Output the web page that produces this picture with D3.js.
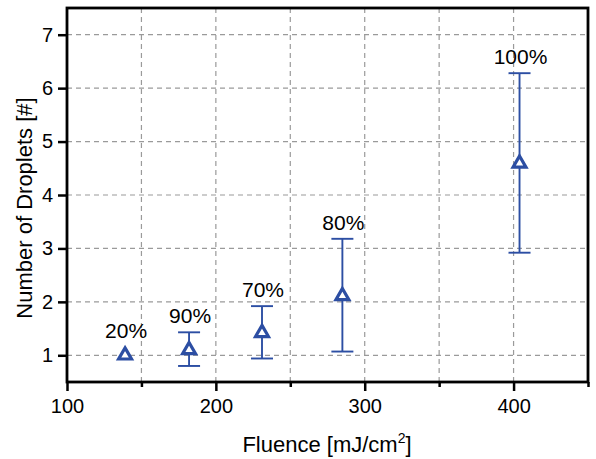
<!DOCTYPE html>
<html>
<head>
<meta charset="utf-8">
<script src="https://cdn.jsdelivr.net/npm/d3@7"></script>
<style>
  body { margin: 0; background: #fff; }
  text { font-family: "Liberation Sans", Arial, sans-serif; fill: #000; }
</style>
</head>
<body>
<script>
// fluence values, mean droplet count, error bar ends, labels
var fluence = [139, 182, 231, 285, 404];
var droplets = [1.0, 1.10, 1.42, 2.11, 4.59];
var errLow = [1.0, 0.80, 0.94, 1.07, 2.92];
var errHigh = [1.0, 1.43, 1.92, 3.18, 6.28];
var labels = ["20%", "90%", "70%", "80%", "100%"];
var xTicks = [100, 200, 300, 400];
var xMinor = [150, 250, 350, 450];
var yTicks = [1, 2, 3, 4, 5, 6, 7];

var width = 596, height = 459;
var margin = {top: 8, right: 8, bottom: 77, left: 67};
var blue = "#2c4ea3";

var data = fluence.map((f, i) => ({
    x: f, y: droplets[i], lo: errLow[i], hi: errHigh[i], label: labels[i]
}));

var svg = d3.select("body")
            .append("svg")
            .attr("width", width)
            .attr("height", height);

var x = d3.scaleLinear()
          .domain([100, 450])
          .range([margin.left, width - margin.right]);
var y = d3.scaleLinear()
          .domain([0.5, 7.5])
          .range([height - margin.bottom, margin.top]);

// grid
var grid = svg.append("g")
              .attr("stroke", "#9a9a9a")
              .attr("stroke-width", 1.2)
              .attr("stroke-dasharray", "5,4");
grid.selectAll("line.v")
    .data(xTicks.concat(xMinor).filter(d => d > 100 && d < 450))
    .enter().append("line")
    .attr("class", "v")
    .attr("x1", d => x(d)).attr("x2", d => x(d))
    .attr("y1", y(7.5)).attr("y2", y(0.5));
grid.selectAll("line.h")
    .data(yTicks)
    .enter().append("line")
    .attr("class", "h")
    .attr("x1", x(100)).attr("x2", x(450))
    .attr("y1", d => y(d)).attr("y2", d => y(d));

// axes
var xAxis = d3.axisBottom(x).tickValues(xTicks).tickSize(9).tickPadding(8);
var xMinorAxis = d3.axisBottom(x).tickValues(xMinor).tickSize(5).tickFormat("");
var yAxis = d3.axisLeft(y).tickValues(yTicks).tickFormat(d3.format("d"))
              .tickSize(9).tickPadding(5);

var gx = svg.append("g")
    .attr("transform", `translate(0,${y(0.5)})`)
    .call(xAxis);
svg.append("g")
    .attr("transform", `translate(0,${y(0.5)})`)
    .call(xMinorAxis)
    .call(g => g.select(".domain").remove())
    .selectAll("line").attr("stroke-width", 2.5);
var gy = svg.append("g")
    .attr("transform", `translate(${x(100)},0)`)
    .call(yAxis);

[gx, gy].forEach(g => {
    g.select(".domain").remove();
    g.selectAll(".tick line").attr("stroke", "#000").attr("stroke-width", 2.5);
    g.selectAll(".tick text")
        .style("font-family", "'Liberation Sans', Arial, sans-serif")
        .style("font-size", "20px")
        .attr("fill", "#000");
});

// frame
svg.append("rect")
    .attr("x", x(100)).attr("y", y(7.5))
    .attr("width", x(450) - x(100))
    .attr("height", y(0.5) - y(7.5))
    .attr("fill", "none")
    .attr("stroke", "#000")
    .attr("stroke-width", 2.8);

// error bars
var err = svg.append("g")
             .attr("stroke", blue)
             .attr("stroke-width", 1.9);
var withErr = data.filter(d => d.hi > d.lo);
err.selectAll("line.stem")
   .data(withErr)
   .enter().append("line")
   .attr("x1", d => x(d.x)).attr("x2", d => x(d.x))
   .attr("y1", d => y(d.lo)).attr("y2", d => y(d.hi));
err.selectAll("line.capHi")
   .data(withErr)
   .enter().append("line")
   .attr("x1", d => x(d.x) - 11).attr("x2", d => x(d.x) + 11)
   .attr("y1", d => y(d.hi)).attr("y2", d => y(d.hi));
err.selectAll("line.capLo")
   .data(withErr)
   .enter().append("line")
   .attr("x1", d => x(d.x) - 11).attr("x2", d => x(d.x) + 11)
   .attr("y1", d => y(d.lo)).attr("y2", d => y(d.lo));

// triangle markers
var tri = d3.symbol().type(d3.symbolTriangle).size(72);
svg.selectAll("path.pt")
   .data(data)
   .enter().append("path")
   .attr("class", "pt")
   .attr("d", tri)
   .attr("transform", d => `translate(${x(d.x)},${y(d.y)})`)
   .attr("fill", "#fff")
   .attr("stroke", blue)
   .attr("stroke-width", 3.2)
   .attr("stroke-linejoin", "miter");

// percentage labels
svg.selectAll("text.lbl")
   .data(data)
   .enter().append("text")
   .attr("class", "lbl")
   .attr("x", d => x(d.x) + 1)
   .attr("y", d => y(d.hi) - (d.hi > d.lo ? 9 : 17))
   .attr("text-anchor", "middle")
   .style("font-size", "21px")
   .text(d => d.label);

// axis titles
var xt = svg.append("text")
    .attr("x", 327)
    .attr("y", 452)
    .attr("text-anchor", "middle")
    .style("font-size", "22px");
xt.append("tspan").text("Fluence [mJ/cm");
xt.append("tspan").text("2").attr("dy", -9).style("font-size", "14px");
xt.append("tspan").text("]").attr("dy", 9);

svg.append("text")
    .attr("transform", "translate(32,208) rotate(-90)")
    .attr("text-anchor", "middle")
    .style("font-size", "22px")
    .text("Number of Droplets [#]");
</script>
</body>
</html>
